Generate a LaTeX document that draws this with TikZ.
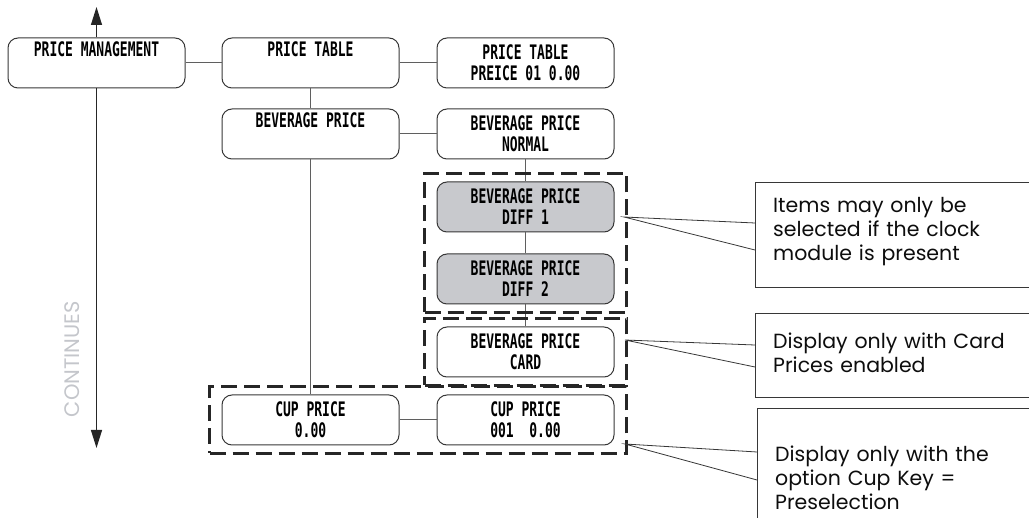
\documentclass[tikz,border=0pt]{standalone}
\usepackage{fontspec}
\usetikzlibrary{arrows.meta,positioning,fit,calc}
\newfontfamily\lcdfont{DejaVu Sans Mono}[FakeStretch=0.65]
\newfontfamily\notefont{Poppins}
\definecolor{dimfill}{RGB}{200,201,205}
\definecolor{fadegray}{RGB}{196,198,203}
\definecolor{boxline}{RGB}{55,55,55}
\definecolor{linkline}{RGB}{95,95,95}
\tikzset{
  menu/.style     ={draw=boxline,line width=1pt,rounded corners=10pt,align=center,minimum width=177pt,
                    minimum height=50pt,inner sep=0pt,font=\lcdfont\bfseries\fontsize{20}{21}\selectfont},
  dimbox/.style   ={menu,fill=dimfill},
  link/.style     ={draw=linkline,line width=1pt},
  group/.style    ={draw=black!85,line width=2.4pt,dash pattern=on 16pt off 7pt,inner xsep=12pt,inner ysep=8pt},
  notebox/.style  ={anchor=north west,align=left,text width=254pt,inner xsep=18pt,inner ysep=0pt,
                    minimum width=290pt,font=\notefont\fontsize{20.5}{24}\selectfont,text=black!95},
  noteframe/.style={draw=boxline,line width=1pt},
  leader/.style   ={draw=boxline,line width=0.8pt},
  arrow/.style    ={-{Triangle[length=18pt,width=11pt]},draw=black!85,line width=1.2pt}
}
\begin{document}
\begin{tikzpicture}[x=1pt,y=-1pt]
    \useasboundingbox (0,0) rectangle (1029,518);
    % menu tree
    \node[menu] (pm) at (96.5,63) {PRICE MANAGEMENT\\\strut};
    \node[menu,right=36pt of pm]        (ptable)    {PRICE TABLE\\\strut};
    \node[menu,right=37pt of ptable]    (ptlist)    {PRICE TABLE\\PREICE 01 0.00};
    \node[menu,below=20pt of ptable]    (bevprice)  {BEVERAGE PRICE\\\strut};
    \node[menu,right=37pt of bevprice]  (bevnormal) {BEVERAGE PRICE\\NORMAL};
    \node[dimbox,below=22pt of bevnormal] (bevdiff1) {BEVERAGE PRICE\\DIFF 1};
    \node[dimbox,below=21pt of bevdiff1]  (bevdiff2) {BEVERAGE PRICE\\DIFF 2};
    \node[menu,below=22pt of bevdiff2]  (bevcard)   {BEVERAGE PRICE\\CARD};
    \node[menu,below=235pt of bevprice] (cupprice)  {CUP PRICE\\0.00};
    \node[menu,right=37pt of cupprice]  (cuplist)   {CUP PRICE\\001\ \ 0.00};
    \draw[link] (pm) -- (ptable);
    \draw[link] (ptable) -- (ptlist);
    \draw[link] (ptable) -- (bevprice);
    \draw[link] (bevprice) -- (bevnormal);
    \draw[link] (bevprice) -- (cupprice);
    \draw[link] (bevnormal) -- (bevdiff1);
    \draw[link] (bevdiff1) -- (bevdiff2);
    \draw[link] (bevdiff2) -- (bevcard);
    \draw[link] (cupprice) -- (cuplist);
    % dashed groups
    \node[group,fit=(bevdiff1)(bevdiff2)] (grpclock) {};
    \node[group,fit=(bevcard)]            (grpcard)  {};
    \node[group,fit=(cupprice)(cuplist)]  (grpcup)   {};
    % continue arrows
    \coordinate (uptip)   at (96.5,7);
    \coordinate (downtip) at (96.5,448);
    \draw[arrow] (pm.north) -- (uptip);
    \draw[arrow] (pm.south) -- (downtip);
    \node[rotate=90,text=fadegray,font=\notefont\fontsize{21}{21}\selectfont] (cont) at (72,359) {CONTINUES};
    % notes
    \node[notebox,text height=29pt,text depth=75pt] (noteclock) at (755,183)
      {Items may only be\\selected if the clock\\module is present};
    \node[notebox,text height=34pt,text depth=49pt] (notecard) at (755,314)
      {Display only with Card\\Prices enabled};
    \node[notebox,text height=52pt,text depth=100pt] (notecup) at (757,409)
      {Display only with the\\option Cup Key =\\Preselection};
    \draw[noteframe] (noteclock.north east) -- (noteclock.north west) -- (noteclock.south west) -- (noteclock.south east);
    \draw[noteframe] (notecard.north east) -- (notecard.north west) -- (notecard.south west) -- (notecard.south east);
    \draw[noteframe] (notecup.north east) -- (notecup.north west) -- (notecup.south west);
    \coordinate (tipclock) at (624,217);
    \coordinate (tipcard)  at (625,340);
    \coordinate (tipcup)   at (625,444);
    \draw[leader] ($(noteclock.north west)+(0,40)$) -- (tipclock) -- ($(noteclock.north west)+(0,67)$);
    \draw[leader] ($(notecard.north west)+(0,31)$) -- (tipcard) -- ($(notecard.north west)+(0,53)$);
    \draw[leader] ($(notecup.north west)+(0,43)$) -- (tipcup) -- ($(notecup.north west)+(0,71)$);
  \end{tikzpicture}
\end{document}
